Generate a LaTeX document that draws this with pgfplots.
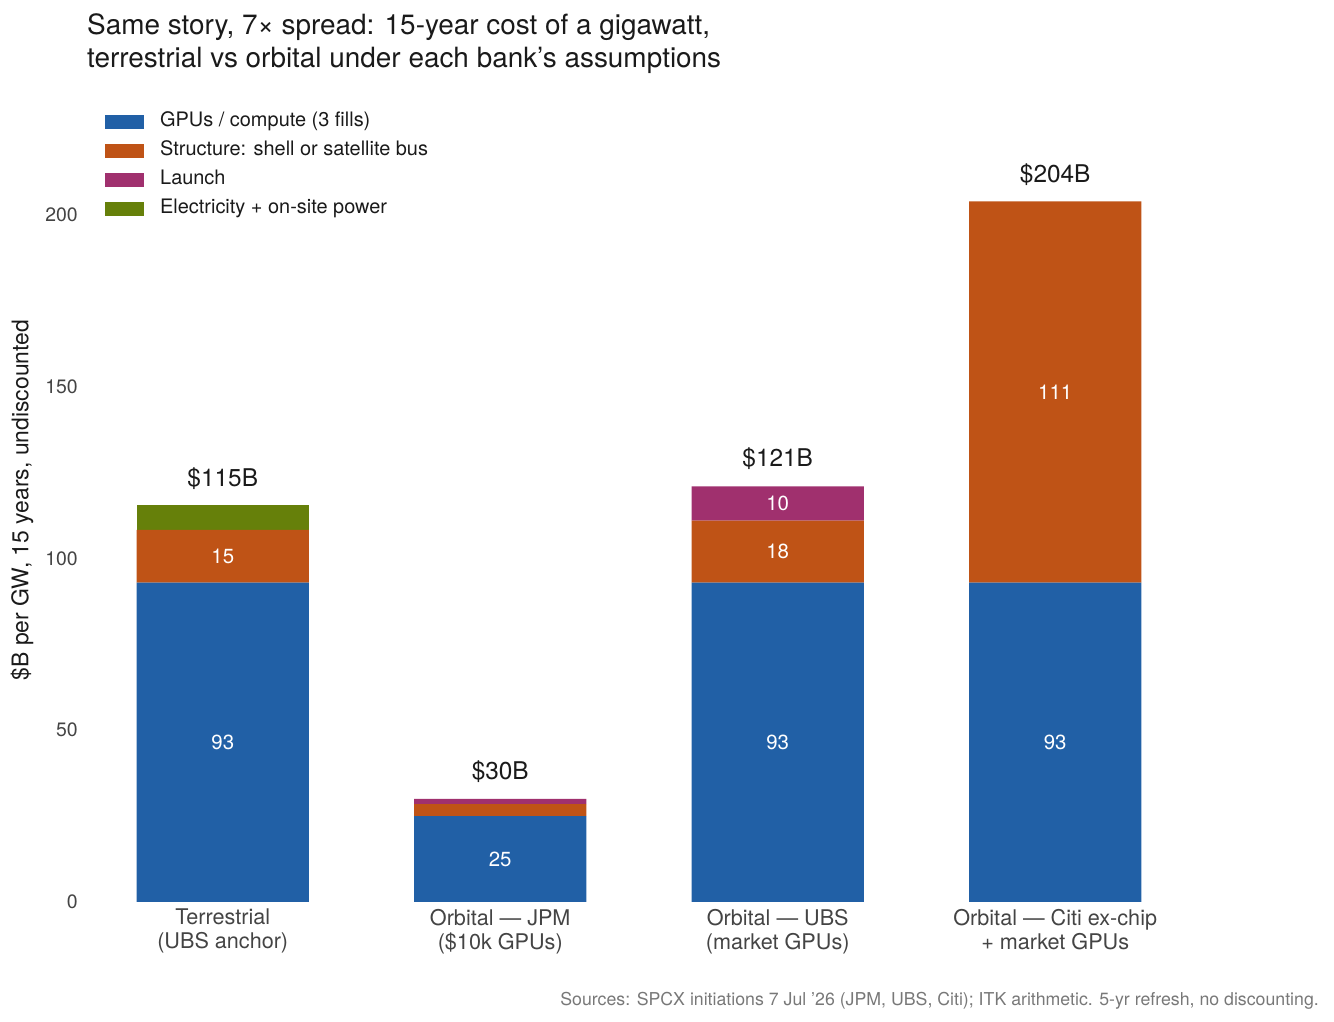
\documentclass[border=0pt]{standalone}
\usepackage{fontspec}
\setmainfont{TeX Gyre Heros}
\usepackage{pgfplots}
\pgfplotsset{compat=1.18}
\usepackage{pgfplotstable}
\definecolor{cgpu}{RGB}{33,96,166}
\definecolor{cstruct}{RGB}{191,83,22}
\definecolor{claunch}{RGB}{160,48,110}
\definecolor{celec}{RGB}{102,128,10}
\definecolor{titlec}{RGB}{26,26,26}
\definecolor{tickc}{RGB}{68,68,68}
\definecolor{srcc}{RGB}{120,120,120}
\pgfplotsset{mylegend/.style={legend image code/.code={\fill[##1] (0bp,-7bp) rectangle (39bp,7bp);}},
  frame/.style={at={(84bp,120bp)}, anchor=south west, scale only axis, width=1110bp, height=807.2bp,
  xmin=-0.5, xmax=3.5, ymin=0, ymax=235, clip=false}}
\tikzset{seglab/.style={text=white, font=\fontsize{20.5}{24}\selectfont, anchor=center, inner sep=0pt},
  totlab/.style={text=titlec, font=\fontsize{24.5}{28}\selectfont, anchor=center, inner sep=0pt}}
\pgfplotstableread{
x gpu struct launch elec
0 93 15.3 0 7.2
1 25 3.5 1.5 0
2 93 18 10 0
3 93 111 0 0
}\costs
\pgfplotstableread{
x y lab
0 46.5 93
0 100.6 15
1 12.5 25
2 46.5 93
2 102 18
2 116 10
3 46.5 93
3 148.5 111
}\seglabels
\pgfplotstableread{
x y lab
0 123.2 \$115B
1 37.9 \$30B
2 129.1 \$121B
3 211.7 \$204B
}\totlabels
\begin{document}
\begin{tikzpicture}
\useasboundingbox (0bp,0bp) rectangle (1334bp,1022bp);
\node[anchor=north west, align=left, font=\fontsize{28}{33.5}\selectfont, text=titlec, inner sep=0pt] at (87bp,1009bp) {Same story, 7× spread: 15-year cost of a gigawatt,\\terrestrial vs orbital under each bank’s assumptions};
\begin{axis}[
  frame,
  ybar stacked, bar width=0.62,
  axis line style={draw=none}, tick style={draw=none}, major tick length=0pt,
  xtick={0,1,2,3},
  xticklabels={{Terrestrial\\(UBS anchor)},{Orbital — JPM\\(\$10k GPUs)},{Orbital — UBS\\(market GPUs)},{Orbital — Citi ex-chip\\+ market GPUs}},
  xticklabel style={align=center, font=\fontsize{21.7}{24}\selectfont, text=tickc, inner sep=0pt, anchor=north, yshift=-7bp},
  ytick={0,50,100,150,200},
  /pgf/number format/assume math mode=true,
  yticklabel style={font=\fontsize{19.5}{22}\selectfont, text=tickc, inner sep=0pt, anchor=east, xshift=-6bp},
  ylabel={\$B per GW, 15 years, undiscounted},
  every axis y label/.style={at={(axis description cs:-0.0559,0.498)}, anchor=center, rotate=90, font=\fontsize{23}{26}\selectfont, text=titlec},
  legend cell align=left,
  legend style={draw=none, fill=none, at={(axis description cs:0.0189,0.9772)}, anchor=north west, inner sep=0pt, font=\fontsize{20}{23}\selectfont, text=titlec, row sep=11.5bp, column sep=16bp, nodes={inner sep=0pt, text height=13.5bp, text depth=4bp}},
]
\addplot[fill=cgpu, draw=none, mylegend] table[x=x,y=gpu]{\costs};
\addlegendentry{GPUs / compute (3 fills)}
\addplot[fill=cstruct, draw=none, mylegend] table[x=x,y=struct]{\costs};
\addlegendentry{Structure: shell or satellite bus}
\addplot[fill=claunch, draw=none, mylegend] table[x=x,y=launch]{\costs};
\addlegendentry{Launch}
\addplot[fill=celec, draw=none, mylegend] table[x=x,y=elec]{\costs};
\addlegendentry{Electricity + on-site power}
\end{axis}
\begin{axis}[frame, hide axis]
\addplot[draw=none, mark=none, nodes near coords, nodes near coords align=center, point meta=explicit symbolic, every node near coord/.style={seglab}] table[x=x,y=y,meta=lab]{\seglabels};
\addplot[draw=none, mark=none, nodes near coords, nodes near coords align=center, point meta=explicit symbolic, every node near coord/.style={totlab}] table[x=x,y=y,meta=lab]{\totlabels};
\end{axis}
\node[anchor=base east, font=\fontsize{17.8}{20}\selectfont, text=srcc, inner sep=0pt] at (1319bp,17bp) {Sources: SPCX initiations 7 Jul ’26 (JPM, UBS, Citi); ITK arithmetic. 5-yr refresh, no discounting.};
\end{tikzpicture}
\end{document}
